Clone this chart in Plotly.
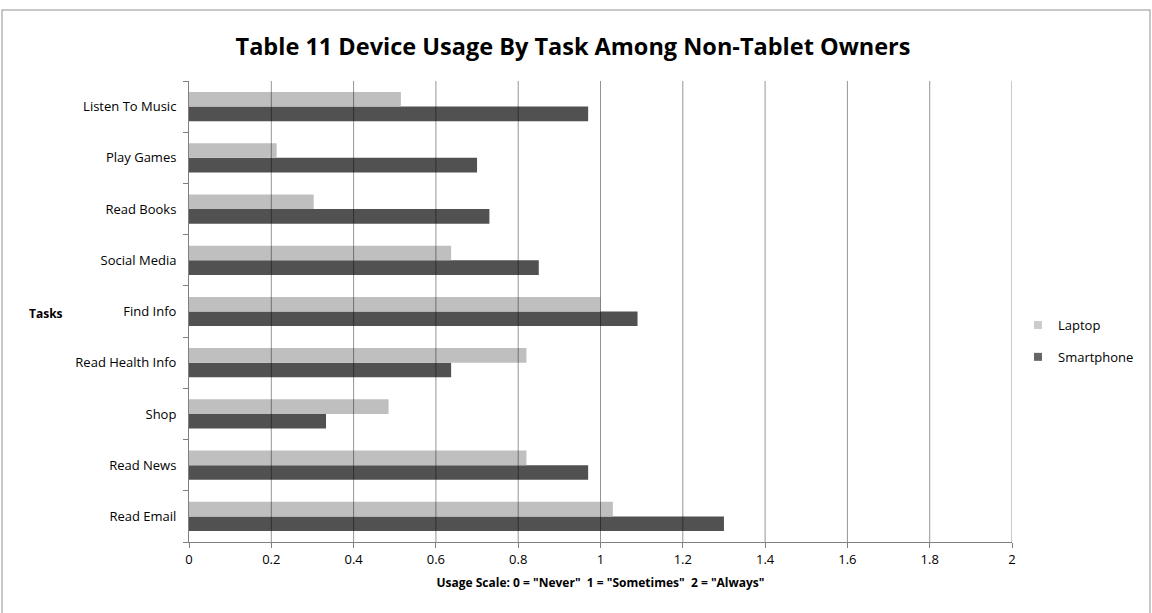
import plotly.graph_objects as go

# Tasks listed bottom-to-top as they appear on the vertical axis
tasks = ["Read Email", "Read News", "Shop", "Read Health Info", "Find Info",
         "Social Media", "Read Books", "Play Games", "Listen To Music"]
laptop = [1.03, 0.82, 0.485, 0.82, 1.0, 0.637, 0.303, 0.213, 0.515]
smartphone = [1.30, 0.97, 0.333, 0.637, 1.09, 0.85, 0.73, 0.70, 0.97]
x_ticks = [0, 0.2, 0.4, 0.6, 0.8, 1, 1.2, 1.4, 1.6, 1.8, 2]

FONT = "Open Sans"
LAPTOP_COLOR = "#bfbfbf"
PHONE_COLOR = "#515151"

# plot-area geometry in pixels
L, R, T, B = 189, 1012, 81, 542
W, H = R - L, B - T

fig = go.Figure()
fig.add_trace(go.Bar(y=tasks, x=smartphone, name="Smartphone", orientation="h",
                     marker=dict(color=PHONE_COLOR, line=dict(width=0)),
                     showlegend=False))
fig.add_trace(go.Bar(y=tasks, x=laptop, name="Laptop", orientation="h",
                     marker=dict(color=LAPTOP_COLOR, line=dict(width=0)),
                     showlegend=False))

# small square legend keys
fig.add_trace(go.Scatter(x=[None], y=[None], mode="markers", name="Laptop",
                         marker=dict(symbol="square", size=8, color="#cccccc"),
                         legendgroup="l", legendrank=1))
fig.add_trace(go.Scatter(x=[None], y=[None], mode="markers", name="Smartphone",
                         marker=dict(symbol="square", size=8, color="#666666"),
                         legendgroup="s", legendrank=2))

# vertical gridlines drawn over the bars
for v in x_ticks[1:]:
    fig.add_shape(type="line", xref="x", yref="paper", x0=v, x1=v, y0=0, y1=1,
                  line=dict(color="rgba(0,0,0,0.42)", width=1), layer="above")

# outer frame of the chart
fig.add_shape(type="rect", xref="paper", yref="paper",
              x0=(2 - L) / W, x1=(1150 - L) / W,
              y0=-0.2, y1=(B - 10) / H,
              line=dict(color="#b5b5b5", width=1.5), layer="below")

fig.add_annotation(text="<b>Tasks</b>", xref="paper", yref="paper",
                   x=(46 - L) / W, y=(B - 313) / H, xanchor="center", yanchor="middle",
                   showarrow=False,
                   font=dict(family=FONT, size=12, color="black"))

fig.update_layout(
    width=1152, height=613,
    margin=dict(l=L, r=1152 - R, t=T, b=613 - B, autoexpand=False),
    paper_bgcolor="white", plot_bgcolor="white",
    barmode="group", bargap=0.43, bargroupgap=0,
    title=dict(text="<b>Table 11 Device Usage By Task Among Non-Tablet Owners</b>",
               x=573 / 1152, xanchor="center", y=1 - 47 / 613, yanchor="middle",
               font=dict(family=FONT, size=23.5, color="black")),
    font=dict(family=FONT, size=12, color="black"),
    legend=dict(x=(1018 - L) / W, y=(B - 341) / H, xanchor="left", yanchor="middle",
                traceorder="grouped", tracegroupgap=12,
                font=dict(family=FONT, size=13),
                itemwidth=30, bgcolor="rgba(0,0,0,0)"),
    xaxis=dict(range=[0, 2], tickvals=x_ticks,
               ticktext=[f"{v:g}" for v in x_ticks],
               showgrid=False, zeroline=False,
               showline=True, linecolor="#7f7f7f", linewidth=1,
               ticks="outside", ticklen=5, tickcolor="#7f7f7f",
               tickfont=dict(family=FONT, size=13),
               title=dict(text='<b>Usage Scale: 0 = "Never"  1 = "Sometimes"  2 = "Always"</b>',
                          font=dict(family=FONT, size=12), standoff=12)),
    yaxis=dict(type="category", categoryorder="array", categoryarray=tasks,
               showgrid=False, zeroline=False,
               showline=True, linecolor="#7f7f7f", linewidth=1,
               ticks="outside", ticklen=5, tickcolor="#7f7f7f", tickson="boundaries",
               tickfont=dict(family=FONT, size=13), ticklabelstandoff=9),
)

fig.write_html("out.html")
